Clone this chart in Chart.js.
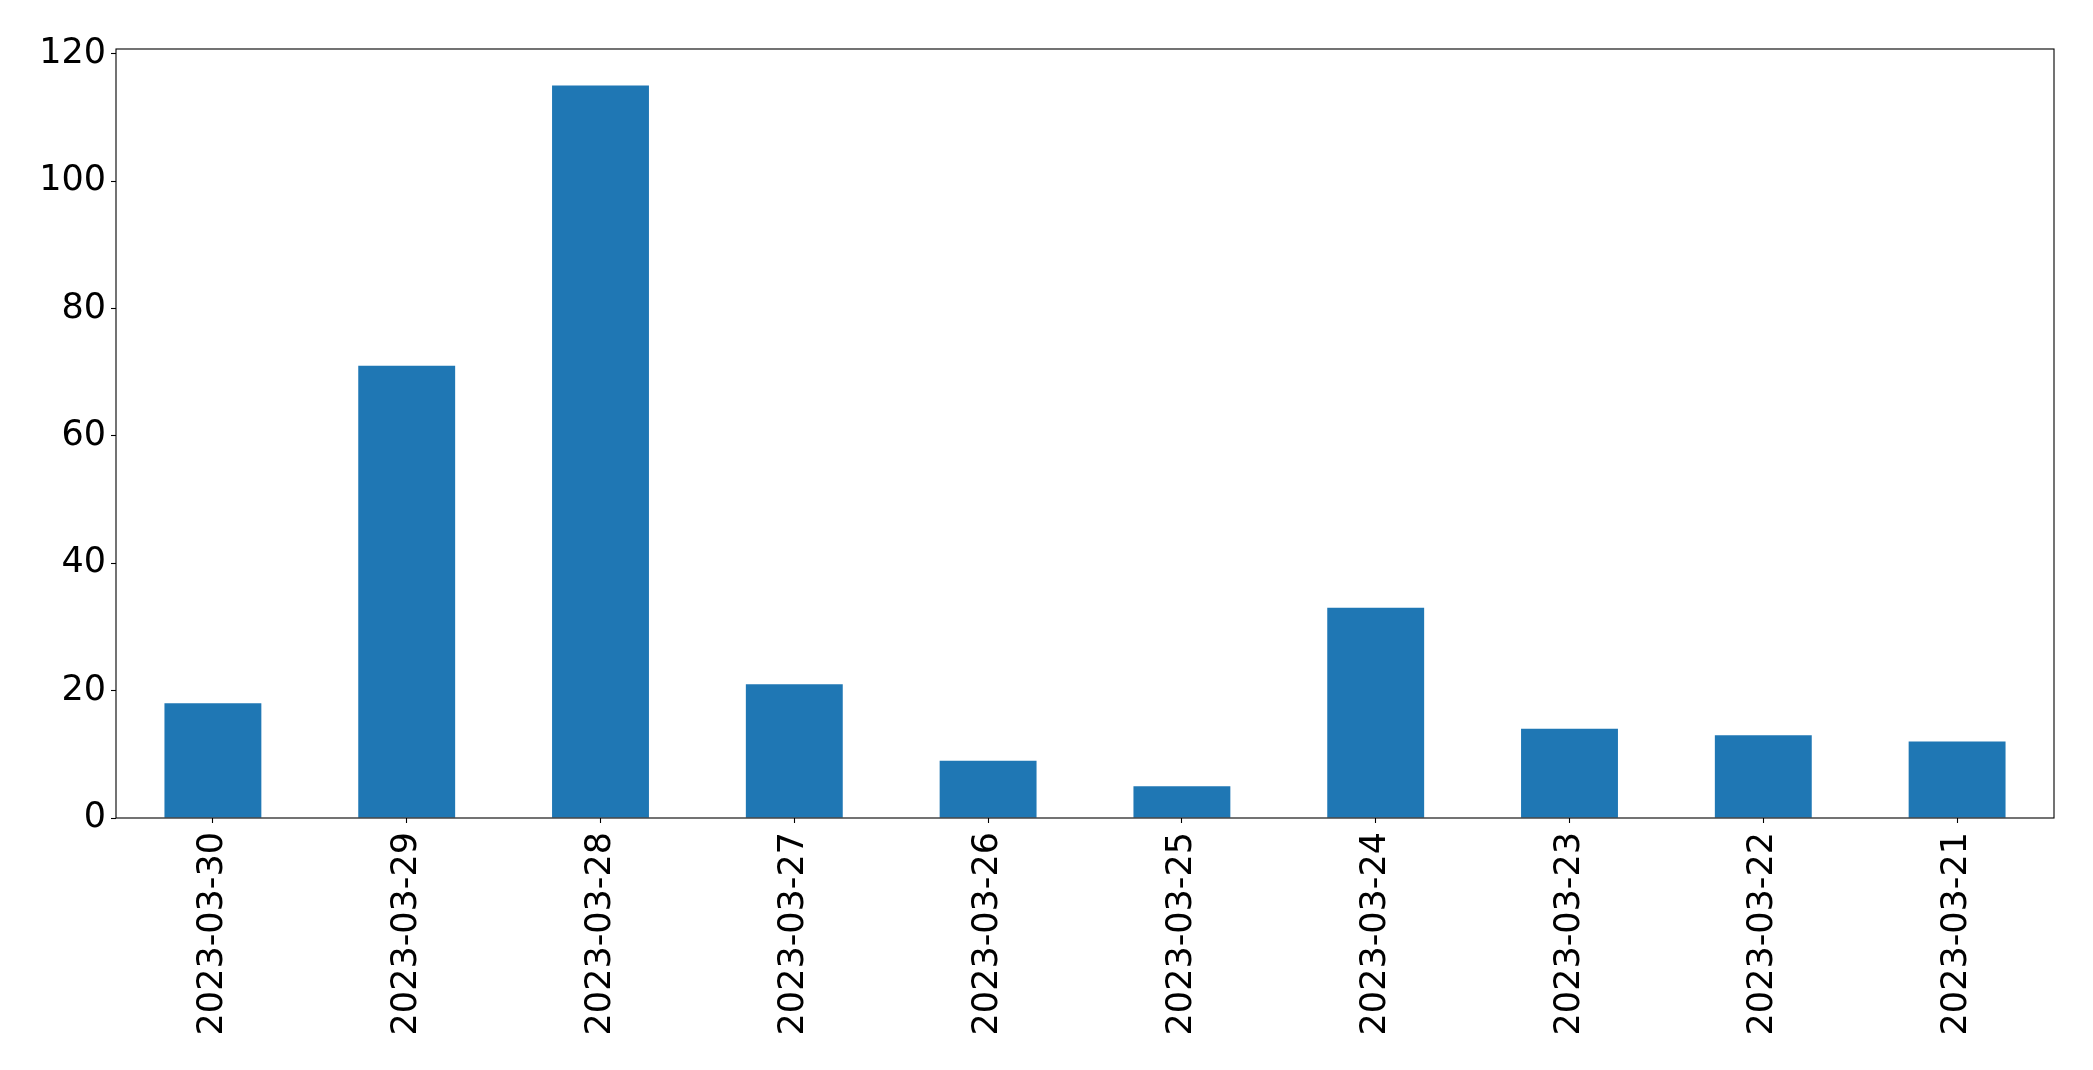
<!DOCTYPE html>
<html>
<head>
<meta charset="utf-8">
<script src="https://cdn.jsdelivr.net/npm/chart.js@4/dist/chart.umd.min.js"></script>
<style>
  html, body { margin: 0; padding: 0; background: #fff; }
  #wrap { width: 2093px; height: 1070px; }
</style>
</head>
<body>
<div id="wrap"><canvas id="chart"></canvas></div>
<script>
// data
const dates = ["2023-03-30", "2023-03-29", "2023-03-28", "2023-03-27", "2023-03-26",
               "2023-03-25", "2023-03-24", "2023-03-23", "2023-03-22", "2023-03-21"];
const counts = [18, 71, 115, 21, 9, 5, 33, 14, 13, 12];
const yTicks = [0, 20, 40, 60, 80, 100, 120];
const yMax = 120.75;

// box round the plot area, like matplotlib spines
const frame = {
  id: 'frame',
  afterDraw(chart) {
    const a = chart.chartArea, c = chart.ctx;
    c.save();
    c.strokeStyle = '#000';
    c.lineWidth = 1.1;
    c.strokeRect(a.left, a.top, a.right - a.left, a.bottom - a.top);
    c.restore();
  }
};

Chart.defaults.font.family = "'DejaVu Sans', sans-serif";
Chart.defaults.color = '#000';

const ctx = document.getElementById('chart').getContext('2d');
let chart = new Chart(ctx, {
  type: 'bar',
  data: {
    labels: dates,
    datasets: [{
      data: counts,
      backgroundColor: '#1f77b4',
      categoryPercentage: 1.0,
      barPercentage: 0.5
    }]
  },
  options: {
    responsive: true,
    maintainAspectRatio: false,
    animation: false,
    layout: { padding: { top: 49, right: 39, left: 0, bottom: 0 } },
    plugins: { legend: { display: false }, tooltip: { enabled: false } },
    scales: {
      x: {
        grid: { drawOnChartArea: false, offset: false, color: '#000', tickLength: 5, tickWidth: 1.1 },
        border: { display: false },
        ticks: { font: { size: 35 }, minRotation: 90, maxRotation: 90, padding: 9, autoSkip: false },
        afterFit(scale) { scale.height = 252; }
      },
      y: {
        min: 0,
        max: yMax,
        grid: { drawOnChartArea: false, color: '#000', tickLength: 5, tickWidth: 1.1 },
        border: { display: false },
        ticks: { font: { size: 35 }, padding: 5 },
        afterBuildTicks(scale) { scale.ticks = yTicks.map(v => ({ value: v })); },
        afterFit(scale) { scale.width = 116; }
      }
    }
  },
  plugins: [frame]
});
</script>
</body>
</html>
